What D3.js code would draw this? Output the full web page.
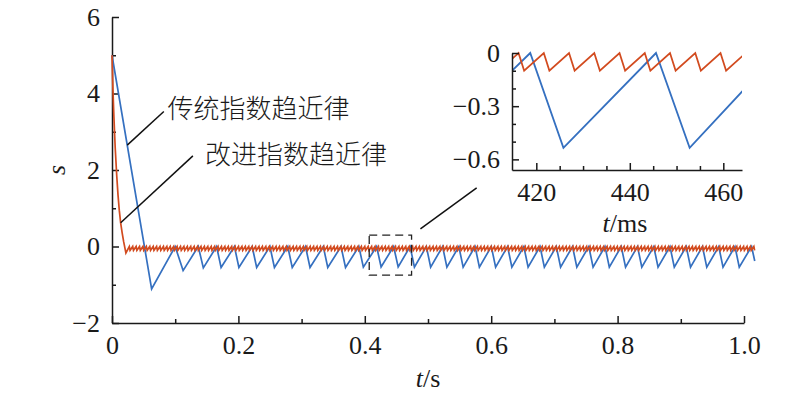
<!DOCTYPE html>
<html>
<head>
<meta charset="utf-8">
<script src="https://cdn.jsdelivr.net/npm/d3@7"></script>
<style>
body{margin:0;background:#fff}
.ax .domain,.ax line{stroke:#1a1a1a;stroke-width:1.5}
</style>
</head>
<body>
<svg id="fig" width="800" height="397"></svg>
<script>
// time in ms, s value
var tradData = [[0,5],[62.7,-1.11],[100,0],[112.5,-0.63],[136.5,0],[144.5,-0.56],
  [165.5,0],[172.6,-0.55],[193.7,0],[200.8,-0.55],[221.8,0],[228.9,-0.55],[249.9,0],[257,-0.55],
  [278.1,0],[285.2,-0.55],[306.2,0],[313.3,-0.55],[334.3,0],[341.4,-0.55],[362.4,0],[369.5,-0.55],
  [390.6,0],[397.7,-0.54],[418.7,0],[425.8,-0.535],[445.6,0],[452.8,-0.535],
  [471.7,0],[478.5,-0.54],[497.4,0],[504.2,-0.54],[523.1,0],[529.9,-0.54],[548.8,0],[555.6,-0.54],
  [574.5,0],[581.3,-0.54],[600.2,0],[607,-0.54],[625.9,0],[632.7,-0.54],[651.6,0],[658.4,-0.54],
  [677.3,0],[684.1,-0.54],[703,0],[709.8,-0.54],[728.7,0],[735.5,-0.54],[754.4,0],[761.2,-0.54],
  [780.1,0],[786.9,-0.54],[805.8,0],[812.6,-0.54],[831.5,0],[838.3,-0.54],[857.2,0],[864,-0.54],
  [882.9,0],[889.7,-0.54],[908.6,0],[915.4,-0.54],[934.3,0],[941.1,-0.54],[960,0],[966.8,-0.54],
  [985.7,0],[992.5,-0.54],[1012,0],[1017,-0.38]];

var imprStart = [[0,5],[1.5,4.1],[3,3.4],[5,2.6],[7.5,1.85],[9.5,1.35],[11.5,0.95],[13.7,0.62],
  [16,0.36],[18.5,0.12],[22,-0.17]];

var imprSteady = [
  [27.4,0],[28.6,-.1],[32.8,0],[34,-.1],[38.2,0],[39.4,-.1],[43.6,0],[44.8,-.1],[49,0],[50.2,-.1],
  [54.4,0],[55.6,-.1],[59.8,0],[61,-.1],[65.2,0],[66.4,-.1],[70.6,0],[71.8,-.1],[76,0],[77.2,-.1],
  [81.4,0],[82.6,-.1],[86.8,0],[88,-.1],[92.2,0],[93.4,-.1],[97.6,0],[98.8,-.1],[103,0],[104.2,-.1],
  [108.4,0],[109.6,-.1],[113.8,0],[115,-.1],[119.2,0],[120.4,-.1],[124.6,0],[125.8,-.1],[130,0],[131.2,-.1],
  [135.4,0],[136.6,-.1],[140.8,0],[142,-.1],[146.2,0],[147.4,-.1],[151.6,0],[152.8,-.1],[157,0],[158.2,-.1],
  [162.4,0],[163.6,-.1],[167.8,0],[169,-.1],[173.2,0],[174.4,-.1],[178.6,0],[179.8,-.1],[184,0],[185.2,-.1],
  [189.4,0],[190.6,-.1],[194.8,0],[196,-.1],[200.2,0],[201.4,-.1],[205.6,0],[206.8,-.1],[211,0],[212.2,-.1],
  [216.4,0],[217.6,-.1],[221.8,0],[223,-.1],[227.2,0],[228.4,-.1],[232.6,0],[233.8,-.1],[238,0],[239.2,-.1],
  [243.4,0],[244.6,-.1],[248.8,0],[250,-.1],[254.2,0],[255.4,-.1],[259.6,0],[260.8,-.1],[265,0],[266.2,-.1],
  [270.4,0],[271.6,-.1],[275.8,0],[277,-.1],[281.2,0],[282.4,-.1],[286.6,0],[287.8,-.1],[292,0],[293.2,-.1],
  [297.4,0],[298.6,-.1],[302.8,0],[304,-.1],[308.2,0],[309.4,-.1],[313.6,0],[314.8,-.1],[319,0],[320.2,-.1],
  [324.4,0],[325.6,-.1],[329.8,0],[331,-.1],[335.2,0],[336.4,-.1],[340.6,0],[341.8,-.1],[346,0],[347.2,-.1],
  [351.4,0],[352.6,-.1],[356.8,0],[358,-.1],[362.2,0],[363.4,-.1],[367.6,0],[368.8,-.1],[373,0],[374.2,-.1],
  [378.4,0],[379.6,-.1],[383.8,0],[385,-.1],[389.2,0],[390.4,-.1],[394.6,0],[395.8,-.1],[400,0],[401.2,-.1],
  [405.4,0],[406.6,-.1],[410.8,0],[412,-.1],[416.2,0],[417.4,-.1],[421.6,0],[422.8,-.1],[427,0],[428.2,-.1],
  [432.4,0],[433.6,-.1],[437.8,0],[439,-.1],[443.2,0],[444.4,-.1],[448.6,0],[449.8,-.1],[454,0],[455.2,-.1],
  [459.4,0],[460.6,-.1],[464.8,0],[466,-.1],[470.2,0],[471.4,-.1],[475.6,0],[476.8,-.1],[481,0],[482.2,-.1],
  [486.4,0],[487.6,-.1],[491.8,0],[493,-.1],[497.2,0],[498.4,-.1],[502.6,0],[503.8,-.1],[508,0],[509.2,-.1],
  [513.4,0],[514.6,-.1],[518.8,0],[520,-.1],[524.2,0],[525.4,-.1],[529.6,0],[530.8,-.1],[535,0],[536.2,-.1],
  [540.4,0],[541.6,-.1],[545.8,0],[547,-.1],[551.2,0],[552.4,-.1],[556.6,0],[557.8,-.1],[562,0],[563.2,-.1],
  [567.4,0],[568.6,-.1],[572.8,0],[574,-.1],[578.2,0],[579.4,-.1],[583.6,0],[584.8,-.1],[589,0],[590.2,-.1],
  [594.4,0],[595.6,-.1],[599.8,0],[601,-.1],[605.2,0],[606.4,-.1],[610.6,0],[611.8,-.1],[616,0],[617.2,-.1],
  [621.4,0],[622.6,-.1],[626.8,0],[628,-.1],[632.2,0],[633.4,-.1],[637.6,0],[638.8,-.1],[643,0],[644.2,-.1],
  [648.4,0],[649.6,-.1],[653.8,0],[655,-.1],[659.2,0],[660.4,-.1],[664.6,0],[665.8,-.1],[670,0],[671.2,-.1],
  [675.4,0],[676.6,-.1],[680.8,0],[682,-.1],[686.2,0],[687.4,-.1],[691.6,0],[692.8,-.1],[697,0],[698.2,-.1],
  [702.4,0],[703.6,-.1],[707.8,0],[709,-.1],[713.2,0],[714.4,-.1],[718.6,0],[719.8,-.1],[724,0],[725.2,-.1],
  [729.4,0],[730.6,-.1],[734.8,0],[736,-.1],[740.2,0],[741.4,-.1],[745.6,0],[746.8,-.1],[751,0],[752.2,-.1],
  [756.4,0],[757.6,-.1],[761.8,0],[763,-.1],[767.2,0],[768.4,-.1],[772.6,0],[773.8,-.1],[778,0],[779.2,-.1],
  [783.4,0],[784.6,-.1],[788.8,0],[790,-.1],[794.2,0],[795.4,-.1],[799.6,0],[800.8,-.1],[805,0],[806.2,-.1],
  [810.4,0],[811.6,-.1],[815.8,0],[817,-.1],[821.2,0],[822.4,-.1],[826.6,0],[827.8,-.1],[832,0],[833.2,-.1],
  [837.4,0],[838.6,-.1],[842.8,0],[844,-.1],[848.2,0],[849.4,-.1],[853.6,0],[854.8,-.1],[859,0],[860.2,-.1],
  [864.4,0],[865.6,-.1],[869.8,0],[871,-.1],[875.2,0],[876.4,-.1],[880.6,0],[881.8,-.1],[886,0],[887.2,-.1],
  [891.4,0],[892.6,-.1],[896.8,0],[898,-.1],[902.2,0],[903.4,-.1],[907.6,0],[908.8,-.1],[913,0],[914.2,-.1],
  [918.4,0],[919.6,-.1],[923.8,0],[925,-.1],[929.2,0],[930.4,-.1],[934.6,0],[935.8,-.1],[940,0],[941.2,-.1],
  [945.4,0],[946.6,-.1],[950.8,0],[952,-.1],[956.2,0],[957.4,-.1],[961.6,0],[962.8,-.1],[967,0],[968.2,-.1],
  [972.4,0],[973.6,-.1],[977.8,0],[979,-.1],[983.2,0],[984.4,-.1],[988.6,0],[989.8,-.1],[994,0],[995.2,-.1],
  [999.4,0],[1000.6,-.1],[1004.8,0],[1006,-.1],[1010.2,0],[1011.4,-.1],[1015.6,0],[1016.8,-.1]];

var imprData = imprStart.concat(imprSteady);

var xMajor = [0,200,400,600,800,1000], xMinor = [100,300,500,700,900];
var yMajor = [-2,0,2,4,6], yMinor = [-1,1,3,5];
var inXMajor = [420,440,460], inXMinor = [425,430,435,445,450,455];
var inYMajor = [0,-0.3,-0.6], inYMinor = [-0.1,-0.2,-0.4,-0.5];

var blue = "#3570c0", red = "#d24b1f";

var svg = d3.select("#fig");
var x = d3.scaleLinear().domain([0,1000]).range([112,744]);
var y = d3.scaleLinear().domain([-2,6]).range([323,17]);

function fmtS(d){ return d===0 ? "0" : d3.format(".1f")(d/1000); }

// main axes
svg.append("g").attr("class","ax").attr("transform","translate(0,323)")
  .call(d3.axisBottom(x).tickValues(xMajor).tickSizeInner(-7).tickSizeOuter(0).tickPadding(13).tickFormat(fmtS));
svg.append("g").attr("class","ax").attr("transform","translate(0,323)")
  .call(d3.axisBottom(x).tickValues(xMinor).tickSizeInner(-4).tickSizeOuter(0).tickFormat(""))
  .select(".domain").remove();
svg.append("g").attr("class","ax").attr("transform","translate(112,0)")
  .call(d3.axisLeft(y).tickValues(yMajor).tickSizeInner(-7).tickSizeOuter(0).tickPadding(12).tickFormat(d3.format("d")));
svg.append("g").attr("class","ax").attr("transform","translate(112,0)")
  .call(d3.axisLeft(y).tickValues(yMinor).tickSizeInner(-4).tickSizeOuter(0).tickFormat(""))
  .select(".domain").remove();

var line = d3.line().x(d => x(d[0])).y(d => y(d[1]));
svg.append("path").datum(tradData).attr("d", line).attr("fill","none").attr("stroke",blue).attr("stroke-width",1.7);
svg.append("path").datum(imprData).attr("d", line).attr("fill","none").attr("stroke",red).attr("stroke-width",1.7);

// annotations
svg.append("line").attr("x1",x(24.1)).attr("y1",y(2.65)).attr("x2",x(82)).attr("y2",y(3.53))
  .attr("stroke","#111").attr("stroke-width",1.5);
svg.append("text").attr("class","cn").attr("x",x(88)).attr("y",y(3.36)).text("传统指数趋近律");
svg.append("line").attr("x1",x(13.7)).attr("y1",y(0.62)).attr("x2",x(128)).attr("y2",y(2.37))
  .attr("stroke","#111").attr("stroke-width",1.5);
svg.append("text").attr("class","cn").attr("x",x(147)).attr("y",y(2.16)).text("改进指数趋近律");

svg.append("rect").attr("x",x(407)).attr("y",y(0.3)).attr("width",x(474)-x(407)).attr("height",y(-0.75)-y(0.3))
  .attr("fill","none").attr("stroke","#222").attr("stroke-width",1.3).attr("stroke-dasharray","8,5");
svg.append("line").attr("x1",x(488)).attr("y1",y(0.46)).attr("x2",x(577)).attr("y2",y(1.53))
  .attr("stroke","#111").attr("stroke-width",1.5);

// axis titles
svg.append("text").attr("class","lab").attr("x",57).attr("y",170).attr("transform","rotate(-90,57,170)")
  .attr("text-anchor","middle").attr("dy","0.3em").attr("font-style","italic").text("s");
var xt = svg.append("text").attr("class","lab").attr("x",428).attr("y",387).attr("text-anchor","middle");
xt.append("tspan").attr("font-style","italic").text("t");
xt.append("tspan").text("/s");

// inset
var ix = d3.scaleLinear().domain([414.8,464]).range([512,742]);
var iy = d3.scaleLinear().domain([-0.66,0]).range([170,53]);
svg.append("clipPath").attr("id","inclip").append("rect")
  .attr("x",512).attr("y",50).attr("width",230).attr("height",120);
var iline = d3.line().x(d => ix(d[0])).y(d => iy(d[1]));
var ig = svg.append("g").attr("clip-path","url(#inclip)");
ig.append("path").datum(tradData).attr("d", iline).attr("fill","none").attr("stroke",blue).attr("stroke-width",1.8);
ig.append("path").datum(imprData).attr("d", iline).attr("fill","none").attr("stroke",red).attr("stroke-width",1.8);

svg.append("g").attr("class","ax").attr("transform","translate(0,170)")
  .call(d3.axisBottom(ix).tickValues(inXMajor).tickSizeInner(-7).tickSizeOuter(0).tickPadding(13).tickFormat(d3.format("d")));
svg.append("g").attr("class","ax").attr("transform","translate(0,170)")
  .call(d3.axisBottom(ix).tickValues(inXMinor).tickSizeInner(-4).tickSizeOuter(0).tickFormat(""))
  .select(".domain").remove();
svg.append("g").attr("class","ax").attr("transform","translate(512,0)")
  .call(d3.axisLeft(iy).tickValues(inYMajor).tickSizeInner(-7).tickSizeOuter(0).tickPadding(12)
    .tickFormat(d => d===0 ? "0" : d3.format(".1f")(d)));
svg.append("g").attr("class","ax").attr("transform","translate(512,0)")
  .call(d3.axisLeft(iy).tickValues(inYMinor).tickSizeInner(-4).tickSizeOuter(0).tickFormat(""))
  .select(".domain").remove();

var it = svg.append("text").attr("class","lab").attr("x",625).attr("y",232).attr("text-anchor","middle");
it.append("tspan").attr("font-style","italic").text("t");
it.append("tspan").text("/ms");

// fonts
svg.selectAll(".ax").attr("font-family", null).attr("font-size", null);
svg.selectAll(".ax text, .lab").attr("fill","#1a1a1a")
  .style("font-family", '"Liberation Serif"').style("font-size","26px");
svg.selectAll(".cn").attr("fill","#1a1a1a")
  .style("font-family", '"Noto Sans CJK SC"').style("font-weight","300").style("font-size","26px");
</script>
</body>
</html>
